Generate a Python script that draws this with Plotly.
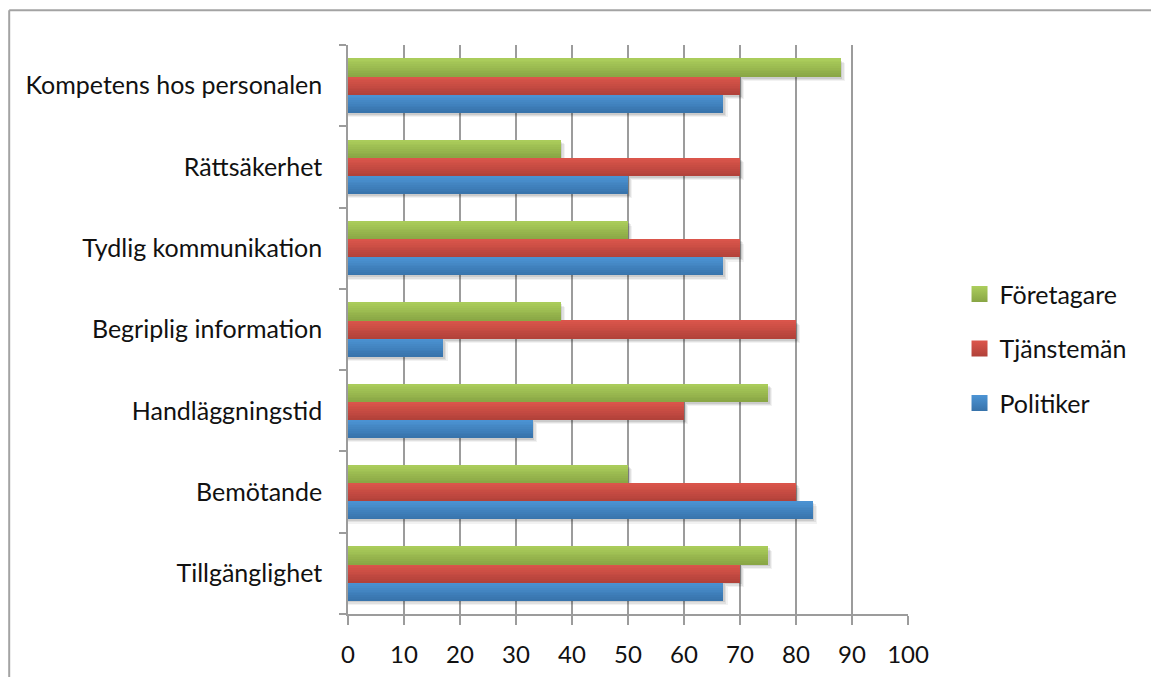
import plotly.graph_objects as go

# Survey categories, listed bottom to top on the y axis
categories = [
    "Tillgänglighet",
    "Bemötande",
    "Handläggningstid",
    "Begriplig information",
    "Tydlig kommunikation",
    "Rättsäkerhet",
    "Kompetens hos personalen",
]

politiker = [67, 83, 33, 17, 67, 50, 67]
tjansteman = [70, 80, 60, 80, 70, 70, 70]
foretagare = [75, 50, 75, 38, 50, 38, 88]

series_names = ["Politiker", "Tjänstemän", "Företagare"]
series_values = [politiker, tjansteman, foretagare]

# (top colour, bottom colour) of each bar's vertical gradient
series_colors = [
    ((76, 148, 212), (55, 114, 170)),
    ((220, 86, 76), (176, 65, 57)),
    ((172, 206, 92), (136, 165, 68)),
]

FONT = "Lato"
GRID = "#9c9c9c"
TEXT = "#111111"
BAR_H = 0.222          # bar thickness in category units
GROUP_START = -1.5 * BAR_H
STRIPS = 10            # slices used to shade each bar


def rgb(c):
    return "rgb({},{},{})".format(*c)


def mix(c1, c2, t):
    return rgb([round(a + (b - a) * t) for a, b in zip(c1, c2)])


fig = go.Figure()

# soft drop shadows behind each series
shadow_layers = [(0.8, 0.055, 0.05), (0.55, 0.04, 0.07), (0.3, 0.025, 0.09)]
for i, vals in enumerate(series_values):
    base = GROUP_START + i * BAR_H
    for dx, dy, a in shadow_layers:
        fig.add_trace(go.Bar(
            y=categories, x=[v + dx for v in vals], orientation="h",
            offset=base - dy, width=BAR_H,
            marker=dict(color=f"rgba(0,0,0,{a})", line=dict(width=0)),
            showlegend=False, hoverinfo="skip",
        ))

# gradient-shaded bars, built from thin horizontal strips
for i, (name, vals, (top, bottom)) in enumerate(zip(series_names, series_values, series_colors)):
    base = GROUP_START + i * BAR_H
    h = BAR_H / STRIPS
    for j in range(STRIPS):
        t = (j + 0.5) / STRIPS  # 0 = bottom, 1 = top
        fig.add_trace(go.Bar(
            y=categories, x=vals, orientation="h",
            offset=base + j * h - 0.002, width=h + 0.004,
            marker=dict(color=mix(bottom, top, t), line=dict(width=0)),
            legendgroup=name, showlegend=False,
            hovertemplate=f"{name}: %{{x}}<extra></extra>",
        ))

# legend keys: shaded squares, Företagare listed first
for rank, (name, (top, bottom)) in zip([3, 2, 1], zip(series_names, series_colors)):
    fig.add_trace(go.Scatter(
        x=[None], y=[None], mode="markers", name=name, legendgroup=name,
        legendrank=rank,
        marker=dict(symbol="square", size=16, color=rgb(top),
                    gradient=dict(type="vertical", color=rgb(bottom)),
                    line=dict(width=0)),
    ))

# outer chart-area frame
frame = dict(type="line", xref="paper", yref="paper",
             line=dict(color="#a3a3a3", width=2))
fig.add_shape(x0=-0.605, x1=1.5, y0=1.061, y1=1.061, **frame)
fig.add_shape(x0=-0.605, x1=-0.605, y0=-0.2, y1=1.061, **frame)

fig.update_layout(
    width=1151, height=677,
    barmode="overlay",
    paper_bgcolor="white", plot_bgcolor="white",
    margin=dict(l=348, r=243, t=45, b=63, autoexpand=False),
    font=dict(family=FONT, size=25, color=TEXT),
    xaxis=dict(
        range=[0, 100], dtick=10, tick0=0,
        showgrid=True, gridcolor=GRID, gridwidth=2,
        zeroline=False, automargin=False,
        showline=True, linecolor=GRID, linewidth=1.5,
        ticks="outside", ticklen=9, tickcolor=GRID, tickwidth=1.5,
        ticklabelstandoff=9,
        tickfont=dict(family=FONT, size=24, color=TEXT),
        fixedrange=True,
    ),
    yaxis=dict(
        type="category", categoryorder="array", categoryarray=categories,
        range=[-0.5, len(categories) - 0.5],
        showgrid=False, zeroline=False, automargin=False,
        showline=True, linecolor=GRID, linewidth=1.5,
        ticks="outside", ticklen=7, tickcolor=GRID, tickwidth=1.5,
        tickson="boundaries", ticklabelstandoff=19,
        tickfont=dict(family=FONT, size=25, color=TEXT),
        fixedrange=True,
    ),
    legend=dict(
        x=1.092, xanchor="left", y=0.466, yanchor="middle",
        traceorder="grouped", tracegroupgap=19,
        font=dict(family=FONT, size=25, color=TEXT),
        itemwidth=30, bgcolor="rgba(0,0,0,0)",
    ),
    bargap=0, showlegend=True,
)

fig.write_html("out.html")
